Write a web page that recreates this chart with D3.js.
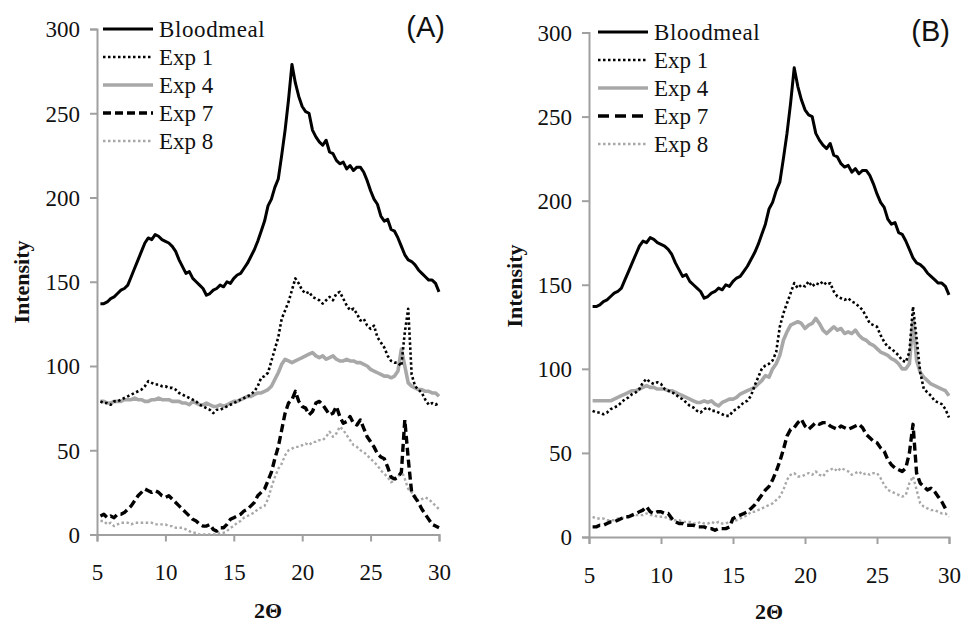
<!DOCTYPE html>
<html><head><meta charset="utf-8">
<script src="https://cdn.jsdelivr.net/npm/d3@7"></script>
<style>
html,body{margin:0;padding:0;background:#fff;}
svg{display:block;}
.serif{font-family:"Liberation Serif","DejaVu Serif",serif;}
.sans{font-family:"Liberation Sans",Arial,sans-serif;}
</style></head>
<body>
<svg id="chart" width="964" height="625"></svg>
<script>
// ---- DATA ----
const theta = [5.25,5.5,5.75,6.0,6.25,6.5,6.75,7.0,7.25,7.5,7.75,8.0,8.25,8.5,8.75,9.0,9.25,9.5,9.75,10.0,
10.25,10.5,10.75,11.0,11.25,11.5,11.75,12.0,12.25,12.5,12.75,13.0,13.25,13.5,13.75,14.0,14.25,14.5,14.75,15.0,
15.25,15.5,15.75,16.0,16.25,16.5,16.75,17.0,17.25,17.5,17.75,18.0,18.25,18.5,18.75,19.0,19.25,19.5,19.75,20.0,
20.25,20.5,20.75,21.0,21.25,21.5,21.75,22.0,22.25,22.5,22.75,23.0,23.25,23.5,23.75,24.0,24.25,24.5,24.75,25.0,
25.25,25.5,25.75,26.0,26.25,26.5,26.75,27.0,27.25,27.5,27.75,28.0,28.25,28.5,28.75,29.0,29.25,29.5,29.75,30.0];

const seriesNames = ["Bloodmeal","Exp 1","Exp 4","Exp 7","Exp 8"];
const xTicks = [5,10,15,20,25,30];
const yTicks = [0,50,100,150,200,250,300];
const panelLabels = ["(A)","(B)"];

const bloodmeal = [137,137,138,140,141,143,145,146,148,153,158,163,168,173,176,175,178,177,175,174,
173,171,168,163,159,155,156,152,150,148,146,142,143,145,146,148,147,150,149,152,
154,155,158,161,165,169,174,180,186,195,199,206,211,225,240,258,279,268,260,254,
251,250,240,236,233,231,234,227,226,222,220,221,217,219,216,218,218,215,210,204,
199,196,189,186,187,181,180,176,171,166,163,162,160,157,155,153,151,151,149,144];

const expA1 = [79,78,78,77,79,79,80,81,82,83,84,85,86,88,91,90,89,89,88,88,
87,87,86,84,83,82,81,80,79,77,76,75,74,72,74,74,75,76,77,78,
79,80,81,82,83,85,88,93,94,96,103,110,117,128,133,138,145,152,149,145,
143,144,141,140,139,137,139,141,139,143,144,140,136,133,134,131,127,128,124,122,
124,117,114,111,106,103,102,102,100,120,134,95,88,86,84,80,77,78,77,78];

const expA4 = [79,79,78,78,79,79,79,80,80,80,81,80,80,79,79,80,80,81,80,80,
80,79,79,79,78,78,77,79,78,77,77,78,77,76,76,77,76,77,78,79,
79,80,81,82,82,83,84,84,85,86,88,92,96,101,104,103,102,103,104,105,
106,107,108,106,105,106,104,105,106,104,103,103,104,103,103,102,102,101,100,98,
97,96,95,94,94,93,94,97,110,100,90,88,87,86,86,85,85,84,84,82];

const expA7 = [11,12,10,11,10,12,12,13,15,17,20,23,25,27,26,25,26,25,23,22,
23,21,19,17,15,13,11,9,8,6,5,5,6,3,2,4,4,6,9,10,
11,12,14,15,17,19,23,25,27,32,37,45,52,62,72,78,80,85,79,76,
75,71,73,78,79,77,74,71,72,76,70,66,67,70,66,65,68,63,58,55,
52,48,46,45,40,34,33,34,37,68,45,25,22,19,15,12,9,6,5,4];

const expA8 = [8,8,6,7,5,6,7,7,7,6,7,7,7,7,7,7,6,6,6,6,
5,5,4,4,4,3,2,1,1,0,0,0,0,0,0,1,1,2,4,5,
7,8,10,11,12,13,15,16,17,21,28,34,39,42,47,50,51,52,52,53,
54,53,55,55,56,56,58,61,58,60,64,62,59,56,53,52,50,49,47,45,
43,41,38,36,34,31,32,34,38,33,27,25,23,20,21,22,21,19,17,15];

const expB1 = [75,74,74,73,74,76,77,78,80,82,83,85,86,88,92,94,92,91,92,91,
88,87,86,85,83,82,80,78,77,75,74,76,77,75,75,74,73,72,72,75,
76,78,80,81,84,90,95,100,102,103,105,110,125,133,139,145,151,148,150,149,
152,149,151,150,152,150,151,146,143,142,141,142,140,139,137,135,131,127,126,125,
120,116,113,112,110,108,105,104,110,137,118,98,88,86,84,81,80,79,76,71];

const expB4 = [81,81,81,81,81,81,82,83,84,85,86,87,87,88,89,90,89,89,88,88,
88,87,87,86,85,84,83,82,81,80,80,81,80,81,79,78,80,81,82,82,
83,85,86,87,88,89,91,93,96,95,100,103,108,117,122,126,127,128,127,124,
126,127,130,127,123,121,123,125,123,124,121,122,121,123,120,118,117,115,114,112,
110,109,108,106,105,103,100,100,103,129,105,98,95,93,91,90,89,88,87,84];

const expB7 = [6,6,7,7,8,9,9,10,11,12,12,13,14,15,16,18,15,14,15,15,
14,14,11,9,8,8,7,7,7,6,6,6,5,5,4,5,5,5,6,11,
12,13,14,15,17,19,22,25,28,30,34,39,45,52,60,64,65,68,70,66,
64,66,68,67,68,68,66,65,64,66,65,64,65,66,67,65,61,59,57,56,
53,51,46,43,41,40,39,41,50,67,38,32,30,28,29,27,24,21,17,16];

const expB8 = [12,11,11,11,10,10,10,11,11,12,12,13,13,13,13,14,13,13,12,12,
12,11,10,10,10,9,9,9,8,8,9,8,8,9,8,9,8,8,9,9,
10,11,12,13,15,15,16,17,18,19,20,22,24,28,34,37,38,36,36,37,
38,37,39,37,36,39,40,41,39,41,40,39,37,38,39,37,38,37,38,38,
35,31,28,27,26,25,24,25,32,36,28,20,18,17,16,16,15,14,14,12];

// ---- STYLES ----
const styles = [
  {color:"#000", width:3.0, dash:null},
  {color:"#000", width:2.6, dash:"2.5,2.5"},
  {color:"#a8a8a8", width:3.6, dash:null},
  {color:"#000", width:3.4, dash:"8,4"},
  {color:"#a8a8a8", width:2.4, dash:"2.5,2.5"}
];

const panels = [
  {label:panelLabels[0], data:[bloodmeal,expA1,expA4,expA7,expA8],
   x0:97, x1:439, yTop:29, yBot:534.5, legX:103, legY:29, labX:445, labY:37,
   ylabX:29, ylabY:282, xlabY:618, tickLabY:580, legDash7:"8,4"},
  {label:panelLabels[1], data:[bloodmeal,expB1,expB4,expB7,expB8],
   x0:589, x1:949, yTop:32.5, yBot:537, legX:598, legY:32, labX:950, labY:41,
   ylabX:522, ylabY:286, xlabY:619, tickLabY:583, legDash7:"11,6"}
];

const svg = d3.select("#chart");
const axisColor = "#a0a0a0";

panels.forEach(p => {
  const x = d3.scaleLinear().domain([5,30]).range([p.x0,p.x1]);
  const y = d3.scaleLinear().domain([0,300]).range([p.yBot,p.yTop]);
  const g = svg.append("g");

  const xa = g.append("g").attr("transform",`translate(0,${p.yBot})`)
    .call(d3.axisBottom(x).tickValues(xTicks).tickSize(7).tickPadding(0).tickFormat(d3.format("d")));
  const ya = g.append("g").attr("transform",`translate(${p.x0},0)`)
    .call(d3.axisLeft(y).tickValues(yTicks).tickSize(7).tickPadding(10).tickFormat(d3.format("d")));
  [xa,ya].forEach(a=>{
    a.attr("font-family",null).attr("font-size",null);
    a.select(".domain").attr("stroke",axisColor).attr("stroke-width",2);
    a.selectAll(".tick line").attr("stroke",axisColor).attr("stroke-width",2);
    a.selectAll(".tick text").attr("class","serif").style("font-size","23px").attr("fill","#111");
  });
  xa.selectAll(".tick text").attr("y", null).attr("dy",null)
    .attr("transform",`translate(0,${p.tickLabY - p.yBot})`);
  ya.selectAll(".tick text").attr("dy","0.34em");

  const line = d3.line().x((d,i)=>x(theta[i])).y(d=>y(d));
  [0,2,4,1,3].forEach(si=>{
    const s = styles[si];
    g.append("path").datum(p.data[si])
      .attr("d",line).attr("fill","none")
      .attr("stroke",s.color).attr("stroke-width",s.width)
      .attr("stroke-dasharray",s.dash)
      .attr("stroke-linejoin","round");
  });

  const lg = g.append("g");
  seriesNames.forEach((n,i)=>{
    const s = styles[i];
    const yy = p.legY + i*28;
    lg.append("line").attr("x1",p.legX).attr("x2",p.legX+50).attr("y1",yy).attr("y2",yy)
      .attr("stroke",s.color).attr("stroke-width",s.width)
      .attr("stroke-dasharray", i===3 ? p.legDash7 : s.dash);
    lg.append("text").attr("class","serif").attr("x",p.legX+56).attr("y",yy).attr("dy","0.34em")
      .style("font-size","23px").attr("fill","#111")
      .style("letter-spacing", i===0 ? "0.6px" : "0px")
      .text(n);
  });

  g.append("text").attr("class","sans").attr("x",p.labX).attr("y",p.labY).attr("text-anchor","end")
    .style("font-size","29px").attr("fill","#111")
    .text(p.label);

  g.append("text").attr("class","serif").attr("transform",`translate(${p.ylabX},${p.ylabY}) rotate(-90)`)
    .attr("text-anchor","middle").style("font-weight","bold")
    .style("font-size","22px").attr("fill","#111").text("Intensity");
  g.append("text").attr("class","serif").attr("x",(p.x0+p.x1)/2).attr("y",p.xlabY).attr("text-anchor","middle")
    .style("font-weight","bold").style("font-size","22px").attr("fill","#111")
    .text("2Θ");
});
</script>
</body></html>
